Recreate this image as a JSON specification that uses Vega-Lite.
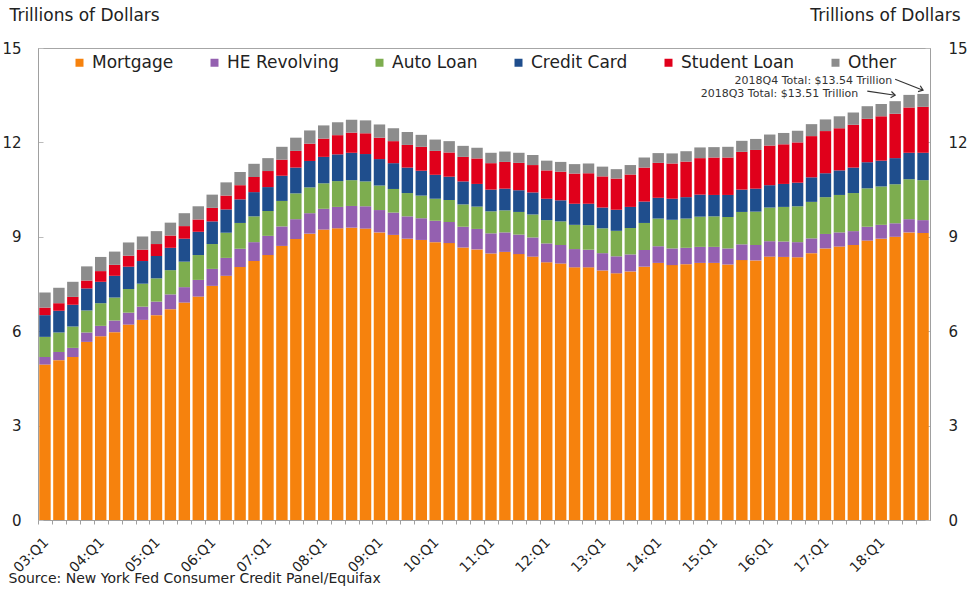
{
  "$schema": "https://vega.github.io/schema/vega-lite/v6.json",
  "width": 892,
  "height": 472,
  "autosize": {"type": "none"},
  "padding": {"left": 38, "top": 48, "right": 42, "bottom": 72},
  "background": "white",
  "config": {
    "view": {"stroke": "#a6a6a6", "strokeWidth": 1},
    "font": "DejaVu Sans"
  },
  "datasets": {
    "debt": [
      {"q": "03:Q1", "Mortgage": 4.94, "HE Revolving": 0.24, "Auto Loan": 0.64, "Credit Card": 0.69, "Student Loan": 0.24, "Other": 0.48},
      {"q": "03:Q2", "Mortgage": 5.08, "HE Revolving": 0.26, "Auto Loan": 0.62, "Credit Card": 0.69, "Student Loan": 0.24, "Other": 0.49},
      {"q": "03:Q3", "Mortgage": 5.18, "HE Revolving": 0.29, "Auto Loan": 0.68, "Credit Card": 0.69, "Student Loan": 0.25, "Other": 0.48},
      {"q": "03:Q4", "Mortgage": 5.66, "HE Revolving": 0.30, "Auto Loan": 0.70, "Credit Card": 0.70, "Student Loan": 0.25, "Other": 0.45},
      {"q": "04:Q1", "Mortgage": 5.84, "HE Revolving": 0.33, "Auto Loan": 0.72, "Credit Card": 0.68, "Student Loan": 0.34, "Other": 0.45},
      {"q": "04:Q2", "Mortgage": 5.97, "HE Revolving": 0.37, "Auto Loan": 0.73, "Credit Card": 0.69, "Student Loan": 0.35, "Other": 0.42},
      {"q": "04:Q3", "Mortgage": 6.21, "HE Revolving": 0.38, "Auto Loan": 0.75, "Credit Card": 0.71, "Student Loan": 0.35, "Other": 0.42},
      {"q": "04:Q4", "Mortgage": 6.36, "HE Revolving": 0.42, "Auto Loan": 0.73, "Credit Card": 0.72, "Student Loan": 0.36, "Other": 0.42},
      {"q": "05:Q1", "Mortgage": 6.51, "HE Revolving": 0.43, "Auto Loan": 0.74, "Credit Card": 0.71, "Student Loan": 0.38, "Other": 0.41},
      {"q": "05:Q2", "Mortgage": 6.70, "HE Revolving": 0.47, "Auto Loan": 0.77, "Credit Card": 0.71, "Student Loan": 0.39, "Other": 0.41},
      {"q": "05:Q3", "Mortgage": 6.91, "HE Revolving": 0.49, "Auto Loan": 0.81, "Credit Card": 0.73, "Student Loan": 0.40, "Other": 0.41},
      {"q": "05:Q4", "Mortgage": 7.10, "HE Revolving": 0.53, "Auto Loan": 0.79, "Credit Card": 0.74, "Student Loan": 0.39, "Other": 0.42},
      {"q": "06:Q1", "Mortgage": 7.44, "HE Revolving": 0.54, "Auto Loan": 0.79, "Credit Card": 0.72, "Student Loan": 0.43, "Other": 0.42},
      {"q": "06:Q2", "Mortgage": 7.76, "HE Revolving": 0.57, "Auto Loan": 0.80, "Credit Card": 0.74, "Student Loan": 0.44, "Other": 0.42},
      {"q": "06:Q3", "Mortgage": 8.04, "HE Revolving": 0.58, "Auto Loan": 0.82, "Credit Card": 0.75, "Student Loan": 0.45, "Other": 0.42},
      {"q": "06:Q4", "Mortgage": 8.23, "HE Revolving": 0.60, "Auto Loan": 0.82, "Credit Card": 0.77, "Student Loan": 0.48, "Other": 0.42},
      {"q": "07:Q1", "Mortgage": 8.42, "HE Revolving": 0.61, "Auto Loan": 0.79, "Credit Card": 0.76, "Student Loan": 0.51, "Other": 0.41},
      {"q": "07:Q2", "Mortgage": 8.71, "HE Revolving": 0.62, "Auto Loan": 0.81, "Credit Card": 0.80, "Student Loan": 0.51, "Other": 0.41},
      {"q": "07:Q3", "Mortgage": 8.93, "HE Revolving": 0.63, "Auto Loan": 0.82, "Credit Card": 0.82, "Student Loan": 0.53, "Other": 0.42},
      {"q": "07:Q4", "Mortgage": 9.10, "HE Revolving": 0.65, "Auto Loan": 0.82, "Credit Card": 0.84, "Student Loan": 0.55, "Other": 0.42},
      {"q": "08:Q1", "Mortgage": 9.23, "HE Revolving": 0.66, "Auto Loan": 0.81, "Credit Card": 0.84, "Student Loan": 0.58, "Other": 0.42},
      {"q": "08:Q2", "Mortgage": 9.27, "HE Revolving": 0.68, "Auto Loan": 0.82, "Credit Card": 0.85, "Student Loan": 0.61, "Other": 0.41},
      {"q": "08:Q3", "Mortgage": 9.29, "HE Revolving": 0.69, "Auto Loan": 0.82, "Credit Card": 0.87, "Student Loan": 0.64, "Other": 0.41},
      {"q": "08:Q4", "Mortgage": 9.26, "HE Revolving": 0.71, "Auto Loan": 0.79, "Credit Card": 0.87, "Student Loan": 0.66, "Other": 0.41},
      {"q": "09:Q1", "Mortgage": 9.14, "HE Revolving": 0.71, "Auto Loan": 0.78, "Credit Card": 0.84, "Student Loan": 0.68, "Other": 0.42},
      {"q": "09:Q2", "Mortgage": 9.06, "HE Revolving": 0.71, "Auto Loan": 0.75, "Credit Card": 0.82, "Student Loan": 0.70, "Other": 0.41},
      {"q": "09:Q3", "Mortgage": 8.94, "HE Revolving": 0.71, "Auto Loan": 0.74, "Credit Card": 0.81, "Student Loan": 0.72, "Other": 0.41},
      {"q": "09:Q4", "Mortgage": 8.90, "HE Revolving": 0.69, "Auto Loan": 0.72, "Credit Card": 0.79, "Student Loan": 0.76, "Other": 0.38},
      {"q": "10:Q1", "Mortgage": 8.83, "HE Revolving": 0.68, "Auto Loan": 0.70, "Credit Card": 0.76, "Student Loan": 0.76, "Other": 0.36},
      {"q": "10:Q2", "Mortgage": 8.80, "HE Revolving": 0.67, "Auto Loan": 0.70, "Credit Card": 0.74, "Student Loan": 0.77, "Other": 0.36},
      {"q": "10:Q3", "Mortgage": 8.66, "HE Revolving": 0.66, "Auto Loan": 0.71, "Credit Card": 0.73, "Student Loan": 0.78, "Other": 0.35},
      {"q": "10:Q4", "Mortgage": 8.60, "HE Revolving": 0.65, "Auto Loan": 0.71, "Credit Card": 0.72, "Student Loan": 0.81, "Other": 0.34},
      {"q": "11:Q1", "Mortgage": 8.47, "HE Revolving": 0.64, "Auto Loan": 0.70, "Credit Card": 0.69, "Student Loan": 0.84, "Other": 0.33},
      {"q": "11:Q2", "Mortgage": 8.52, "HE Revolving": 0.62, "Auto Loan": 0.70, "Credit Card": 0.69, "Student Loan": 0.85, "Other": 0.33},
      {"q": "11:Q3", "Mortgage": 8.45, "HE Revolving": 0.62, "Auto Loan": 0.72, "Credit Card": 0.69, "Student Loan": 0.87, "Other": 0.32},
      {"q": "11:Q4", "Mortgage": 8.37, "HE Revolving": 0.61, "Auto Loan": 0.73, "Credit Card": 0.70, "Student Loan": 0.87, "Other": 0.32},
      {"q": "12:Q1", "Mortgage": 8.19, "HE Revolving": 0.60, "Auto Loan": 0.74, "Credit Card": 0.68, "Student Loan": 0.90, "Other": 0.31},
      {"q": "12:Q2", "Mortgage": 8.15, "HE Revolving": 0.59, "Auto Loan": 0.75, "Credit Card": 0.67, "Student Loan": 0.91, "Other": 0.31},
      {"q": "12:Q3", "Mortgage": 8.03, "HE Revolving": 0.58, "Auto Loan": 0.77, "Credit Card": 0.67, "Student Loan": 0.96, "Other": 0.30},
      {"q": "12:Q4", "Mortgage": 8.03, "HE Revolving": 0.56, "Auto Loan": 0.78, "Credit Card": 0.68, "Student Loan": 0.97, "Other": 0.31},
      {"q": "13:Q1", "Mortgage": 7.93, "HE Revolving": 0.55, "Auto Loan": 0.79, "Credit Card": 0.66, "Student Loan": 0.99, "Other": 0.31},
      {"q": "13:Q2", "Mortgage": 7.84, "HE Revolving": 0.54, "Auto Loan": 0.81, "Credit Card": 0.67, "Student Loan": 0.99, "Other": 0.30},
      {"q": "13:Q3", "Mortgage": 7.90, "HE Revolving": 0.54, "Auto Loan": 0.84, "Credit Card": 0.67, "Student Loan": 1.03, "Other": 0.30},
      {"q": "13:Q4", "Mortgage": 8.05, "HE Revolving": 0.53, "Auto Loan": 0.86, "Credit Card": 0.68, "Student Loan": 1.08, "Other": 0.32},
      {"q": "14:Q1", "Mortgage": 8.17, "HE Revolving": 0.53, "Auto Loan": 0.88, "Credit Card": 0.66, "Student Loan": 1.11, "Other": 0.31},
      {"q": "14:Q2", "Mortgage": 8.10, "HE Revolving": 0.53, "Auto Loan": 0.91, "Credit Card": 0.67, "Student Loan": 1.12, "Other": 0.32},
      {"q": "14:Q3", "Mortgage": 8.13, "HE Revolving": 0.52, "Auto Loan": 0.93, "Credit Card": 0.68, "Student Loan": 1.13, "Other": 0.33},
      {"q": "14:Q4", "Mortgage": 8.17, "HE Revolving": 0.51, "Auto Loan": 0.96, "Credit Card": 0.70, "Student Loan": 1.16, "Other": 0.34},
      {"q": "15:Q1", "Mortgage": 8.17, "HE Revolving": 0.51, "Auto Loan": 0.97, "Credit Card": 0.68, "Student Loan": 1.19, "Other": 0.33},
      {"q": "15:Q2", "Mortgage": 8.12, "HE Revolving": 0.51, "Auto Loan": 1.00, "Credit Card": 0.70, "Student Loan": 1.19, "Other": 0.34},
      {"q": "15:Q3", "Mortgage": 8.26, "HE Revolving": 0.50, "Auto Loan": 1.03, "Credit Card": 0.71, "Student Loan": 1.20, "Other": 0.35},
      {"q": "15:Q4", "Mortgage": 8.25, "HE Revolving": 0.49, "Auto Loan": 1.06, "Credit Card": 0.73, "Student Loan": 1.23, "Other": 0.35},
      {"q": "16:Q1", "Mortgage": 8.37, "HE Revolving": 0.49, "Auto Loan": 1.07, "Credit Card": 0.71, "Student Loan": 1.26, "Other": 0.35},
      {"q": "16:Q2", "Mortgage": 8.36, "HE Revolving": 0.49, "Auto Loan": 1.10, "Credit Card": 0.73, "Student Loan": 1.26, "Other": 0.36},
      {"q": "16:Q3", "Mortgage": 8.35, "HE Revolving": 0.48, "Auto Loan": 1.14, "Credit Card": 0.75, "Student Loan": 1.28, "Other": 0.37},
      {"q": "16:Q4", "Mortgage": 8.48, "HE Revolving": 0.47, "Auto Loan": 1.16, "Credit Card": 0.78, "Student Loan": 1.31, "Other": 0.38},
      {"q": "17:Q1", "Mortgage": 8.63, "HE Revolving": 0.46, "Auto Loan": 1.17, "Credit Card": 0.76, "Student Loan": 1.34, "Other": 0.37},
      {"q": "17:Q2", "Mortgage": 8.69, "HE Revolving": 0.45, "Auto Loan": 1.19, "Credit Card": 0.78, "Student Loan": 1.34, "Other": 0.38},
      {"q": "17:Q3", "Mortgage": 8.74, "HE Revolving": 0.44, "Auto Loan": 1.21, "Credit Card": 0.81, "Student Loan": 1.36, "Other": 0.39},
      {"q": "17:Q4", "Mortgage": 8.88, "HE Revolving": 0.44, "Auto Loan": 1.22, "Credit Card": 0.83, "Student Loan": 1.38, "Other": 0.40},
      {"q": "18:Q1", "Mortgage": 8.94, "HE Revolving": 0.44, "Auto Loan": 1.22, "Credit Card": 0.82, "Student Loan": 1.41, "Other": 0.39},
      {"q": "18:Q2", "Mortgage": 9.00, "HE Revolving": 0.43, "Auto Loan": 1.24, "Credit Card": 0.83, "Student Loan": 1.41, "Other": 0.40},
      {"q": "18:Q3", "Mortgage": 9.14, "HE Revolving": 0.42, "Auto Loan": 1.27, "Credit Card": 0.84, "Student Loan": 1.44, "Other": 0.40},
      {"q": "18:Q4", "Mortgage": 9.12, "HE Revolving": 0.41, "Auto Loan": 1.27, "Credit Card": 0.87, "Student Loan": 1.46, "Other": 0.41}
    ],
    "cats": [
      {"key": "Mortgage", "rank": 1},
      {"key": "HE Revolving", "rank": 2},
      {"key": "Auto Loan", "rank": 3},
      {"key": "Credit Card", "rank": 4},
      {"key": "Student Loan", "rank": 5},
      {"key": "Other", "rank": 6}
    ],
    "notes": [
      {"q": "18:Q2", "y": 13.96, "label": "2018Q4 Total: $13.54 Trillion", "id": "Q4"},
      {"q": "17:Q4", "y": 13.54, "label": "2018Q3 Total: $13.51 Trillion", "id": "Q3"}
    ],
    "arrows": [
      {"id": "Q4", "from": "18:Q2", "to": "18:Q4", "y": 14.01, "y2": 13.66},
      {"id": "Q3", "from": "17:Q4", "to": "18:Q2", "y": 13.63, "y2": 13.5}
    ]
  },
  "layer": [
    {
      "data": {"name": "debt"},
      "transform": [
        {"fold": ["Mortgage", "HE Revolving", "Auto Loan", "Credit Card", "Student Loan", "Other"], "as": ["key", "value"]},
        {"lookup": "key", "from": {"data": {"name": "cats"}, "key": "key", "fields": ["rank"]}}
      ],
      "mark": {"type": "bar"},
      "encoding": {
        "x": {
          "field": "q", "type": "nominal", "sort": null,
          "scale": {"paddingInner": 0.18, "paddingOuter": 0.09},
          "axis": {
            "title": "Source: New York Fed Consumer Credit Panel/Equifax",
            "titleX": -30, "titleY": 58, "titleAlign": "left", "titleBaseline": "middle",
            "titleFont": "DejaVu Sans", "titleFontSize": 14, "titleFontWeight": "normal", "titleColor": "#222",
            "labelAngle": -45, "labelAlign": "right",
            "labelExpr": "indexof(datum.value, 'Q1') > 0 ? datum.value : ''",
            "labelFont": "DejaVu Sans", "labelFontSize": 14, "labelColor": "#222", "labelPadding": 11,
            "tickOffset": -7, "labelOffset": 3,
            "tickSize": 4, "tickColor": "#a0a0a0",
            "domainColor": "#a0a0a0"
          }
        },
        "y": {
          "field": "value", "type": "quantitative", "stack": "zero",
          "scale": {"domain": [0, 15], "nice": false},
          "axis": {
            "orient": "left", "values": [0, 3, 6, 9, 12, 15], "grid": false,
            "title": "Trillions of Dollars", "titleAngle": 0, "titleX": -29, "titleY": -33,
            "titleAlign": "left", "titleBaseline": "middle",
            "titleFont": "DejaVu Sans", "titleFontSize": 17, "titleFontWeight": "normal", "titleColor": "#222",
            "labelFont": "DejaVu Sans", "labelFontSize": 15, "labelColor": "#222", "labelPadding": 22,
            "tickSize": -5, "tickColor": "#bbbbbb", "domainColor": "#a0a0a0"
          }
        },
        "color": {
          "field": "key", "type": "nominal",
          "scale": {
            "domain": ["Mortgage", "HE Revolving", "Auto Loan", "Credit Card", "Student Loan", "Other"],
            "range": ["#F6820D", "#9460B0", "#7DAD4F", "#1F4E8D", "#E0001B", "#8C8C8C"]
          },
          "legend": {
            "title": null, "orient": "none", "direction": "horizontal", "columns": 6,
            "legendX": 33, "legendY": 6,
            "symbolType": "square", "symbolSize": 64, "symbolStrokeWidth": 0,
            "labelFont": "DejaVu Sans", "labelFontSize": 17, "labelColor": "#222",
            "labelOffset": 4, "columnPadding": 32
          }
        },
        "order": {"field": "rank", "type": "quantitative", "sort": "ascending"}
      }
    },
    {
      "data": {"name": "notes"},
      "transform": [{"filter": "datum.id == 'Q4'"}],
      "mark": {"type": "text", "align": "right", "baseline": "middle", "font": "DejaVu Sans", "fontSize": 11, "color": "#333", "dx": -3},
      "encoding": {
        "x": {"field": "q", "type": "nominal", "sort": null},
        "y": {
          "field": "y", "type": "quantitative",
          "scale": {"domain": [0, 15], "nice": false},
          "axis": {
            "orient": "right", "values": [0, 3, 6, 9, 12, 15], "grid": false,
            "title": "Trillions of Dollars", "titleAngle": 0, "titleX": 30, "titleY": -33,
            "titleAlign": "right", "titleBaseline": "middle",
            "titleFont": "DejaVu Sans", "titleFontSize": 17, "titleFontWeight": "normal", "titleColor": "#222",
            "labelFont": "DejaVu Sans", "labelFontSize": 15, "labelColor": "#222", "labelPadding": 23,
            "tickSize": -5, "tickColor": "#bbbbbb", "domainColor": "#a0a0a0"
          }
        },
        "text": {"field": "label"}
      }
    },
    {
      "data": {"name": "notes"},
      "transform": [{"filter": "datum.id == 'Q3'"}],
      "mark": {"type": "text", "align": "right", "baseline": "middle", "font": "DejaVu Sans", "fontSize": 11, "color": "#333", "dx": -9},
      "encoding": {
        "x": {"field": "q", "type": "nominal", "sort": null},
        "y": {"field": "y", "type": "quantitative", "scale": {"domain": [0, 15], "nice": false}, "axis": null},
        "text": {"field": "label"}
      }
    },
    {
      "data": {"name": "arrows"},
      "mark": {"type": "rule", "color": "#333", "strokeWidth": 1.1},
      "encoding": {
        "x": {"field": "from", "type": "nominal", "sort": null},
        "x2": {"field": "to"},
        "y": {"field": "y", "type": "quantitative", "scale": {"domain": [0, 15], "nice": false}, "axis": null},
        "y2": {"field": "y2"}
      }
    },
    {
      "data": {"name": "arrows"},
      "transform": [{"filter": "datum.id == 'Q4'"}],
      "mark": {"type": "point", "shape": "M-1,-0.75L0,0L-1,0.75", "angle": 21, "size": 70, "filled": false, "stroke": "#333", "strokeWidth": 1.2, "opacity": 1},
      "encoding": {
        "x": {"field": "to", "type": "nominal", "sort": null},
        "y": {"field": "y2", "type": "quantitative", "scale": {"domain": [0, 15], "nice": false}, "axis": null}
      }
    },
    {
      "data": {"name": "arrows"},
      "transform": [{"filter": "datum.id == 'Q3'"}],
      "mark": {"type": "point", "shape": "M-1,-0.75L0,0L-1,0.75", "angle": 8, "size": 70, "filled": false, "stroke": "#333", "strokeWidth": 1.2, "opacity": 1},
      "encoding": {
        "x": {"field": "to", "type": "nominal", "sort": null},
        "y": {"field": "y2", "type": "quantitative", "scale": {"domain": [0, 15], "nice": false}, "axis": null}
      }
    }
  ],
  "resolve": {"scale": {"y": "independent"}}
}
